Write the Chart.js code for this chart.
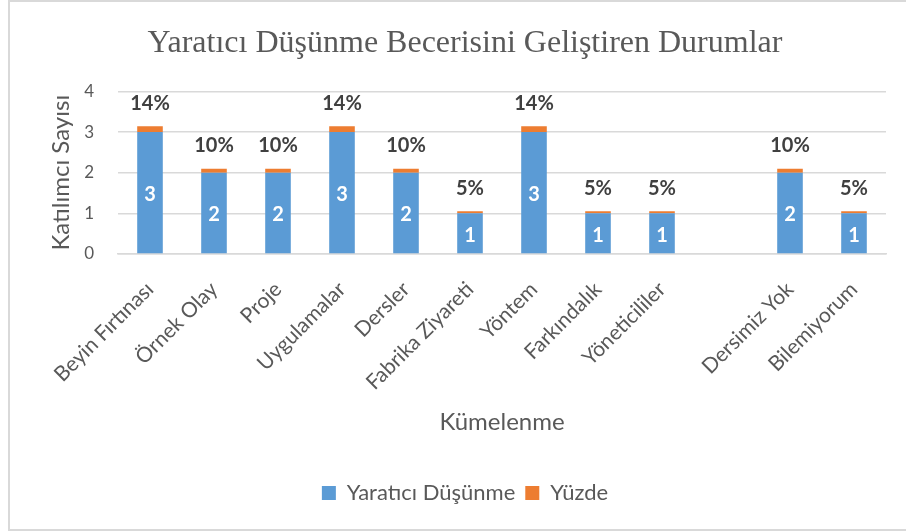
<!DOCTYPE html>
<html>
<head>
<meta charset="utf-8">
<script src="https://cdn.jsdelivr.net/npm/chart.js"></script>
<style>
  body { margin: 0; background: #fff; }
  #wrap { position: relative; width: 906px; height: 531px; overflow: hidden; }
  #frame {
    position: absolute; left: 8px; top: 0; width: 920px; height: 527px;
    border: 2px solid #d9d9d9; pointer-events: none;
  }
  canvas { position: absolute; left: 0; top: 0; }
</style>
</head>
<body>
<div id="wrap">
  <canvas id="grafik" width="906" height="531"></canvas>
  <div id="frame"></div>
</div>
<script>
// kategoriler (boş olan, Excel'deki boş sütun)
const kategoriler = ['Beyin Fırtınası', 'Örnek Olay', 'Proje', 'Uygulamalar', 'Dersler',
  'Fabrika Ziyareti', 'Yöntem', 'Farkındalık', 'Yöneticililer', '', 'Dersimiz Yok', 'Bilemiyorum'];
const katilimci = [3, 2, 2, 3, 2, 1, 3, 1, 1, null, 2, 1];
const yuzde = [0.14, 0.10, 0.10, 0.14, 0.10, 0.05, 0.14, 0.05, 0.05, null, 0.10, 0.05];
const yEtiketleri = [0, 1, 2, 3, 4];

const gri = '#595959';
const yaziTipi = 'Lato, "Open Sans", sans-serif';

// çubuk içi sayılar ve üstteki yüzde etiketleri
const etiketler = {
  id: 'etiketler',
  afterDatasetsDraw(chart) {
    const ctx = chart.ctx;
    ctx.save();
    ctx.textAlign = 'center';
    ctx.textBaseline = 'middle';
    ctx.font = 'bold 20px ' + yaziTipi;
    chart.getDatasetMeta(0).data.forEach((bar, i) => {
      if (katilimci[i] == null) return;
      ctx.fillStyle = '#ffffff';
      ctx.fillText(katilimci[i], bar.x, (bar.y + bar.base) / 2 + 2);
    });
    chart.getDatasetMeta(1).data.forEach((bar, i) => {
      if (yuzde[i] == null) return;
      ctx.fillStyle = '#404040';
      ctx.fillText(Math.round(yuzde[i] * 100) + '%', bar.x, bar.y - 23);
    });
    ctx.restore();
  }
};

new Chart(document.getElementById('grafik'), {
  type: 'bar',
  data: {
    labels: kategoriler,
    datasets: [
      { label: 'Yaratıcı Düşünme', data: katilimci, backgroundColor: '#5b9bd5' },
      { label: 'Yüzde', data: yuzde, backgroundColor: '#ed7d31' }
    ]
  },
  options: {
    responsive: false,
    animation: false,
    layout: { padding: { left: 44, right: 20, top: 0, bottom: 17 } },
    datasets: { bar: { categoryPercentage: 0.8, barPercentage: 0.5 } },
    plugins: {
      title: {
        display: true,
        text: 'Yaratıcı Düşünme Becerisini Geliştiren Durumlar',
        color: gri,
        font: { family: '"Liberation Serif", "Times New Roman", serif', size: 32, weight: 'normal' },
        padding: { top: 24, bottom: 29 }
      },
      legend: {
        position: 'bottom',
        labels: {
          color: gri,
          font: { family: yaziTipi, size: 22 },
          boxWidth: 14,
          boxHeight: 14,
          padding: 10
        }
      },
      tooltip: { enabled: false }
    },
    scales: {
      x: {
        stacked: true,
        grid: { display: false },
        border: { color: '#d9d9d9', width: 1.5 },
        ticks: {
          color: gri,
          font: { family: yaziTipi, size: 21 },
          minRotation: 45,
          maxRotation: 45,
          autoSkip: false,
          padding: 15
        },
        title: {
          display: true,
          text: 'Kümelenme',
          color: gri,
          font: { family: yaziTipi, size: 24 },
          padding: { top: 35, bottom: 35 }
        },
        afterFit(s) { s.height = 218; }
      },
      y: {
        stacked: true,
        min: 0,
        max: 4,
        grid: { color: '#d9d9d9', lineWidth: 1.5, drawTicks: false },
        border: { display: false },
        afterBuildTicks(s) { s.ticks = yEtiketleri.map(v => ({ value: v })); },
        ticks: {
          color: gri,
          font: { family: yaziTipi, size: 17 },
          padding: 24
        },
        title: {
          display: true,
          text: 'Katılımcı Sayısı',
          color: gri,
          font: { family: yaziTipi, size: 24 },
          padding: { top: 3, bottom: 3 }
        },
        afterFit(s) { s.width = 74; }
      }
    }
  },
  plugins: [etiketler]
});
</script>
</body>
</html>
